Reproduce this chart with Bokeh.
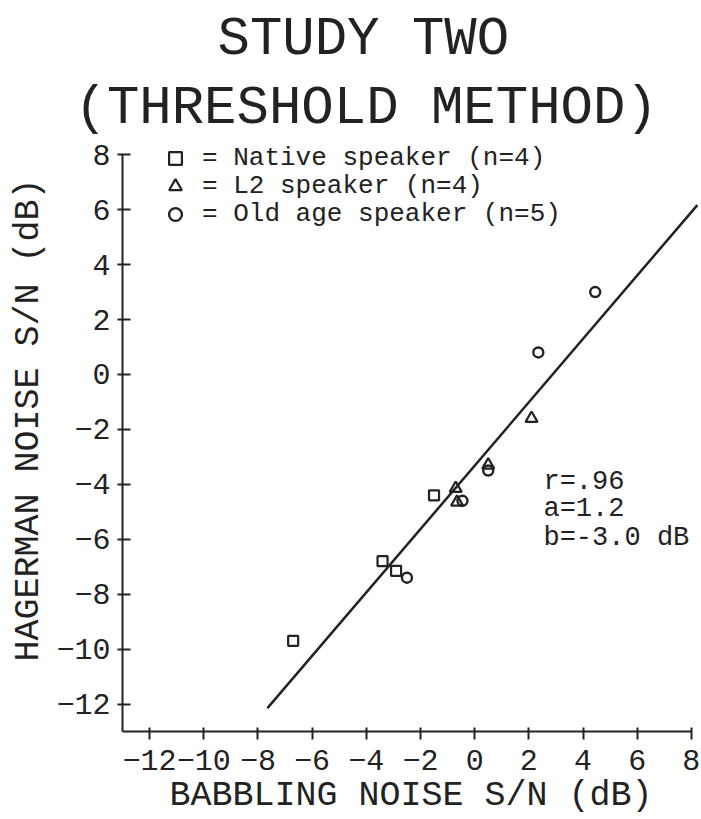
import numpy as np
from bokeh.plotting import figure
from bokeh.models import Range1d, FixedTicker, Label, Legend, LegendItem, Title
from bokeh.embed import file_html
from bokeh.resources import INLINE

# S/N thresholds (dB): babbling noise (x) vs Hagerman noise (y), per speaker group
native_x = [-6.7, -3.4, -2.9, -1.5]
native_y = [-9.7, -6.8, -7.15, -4.4]
l2_x = [2.1, 0.5, -0.7, -0.65]
l2_y = [-1.6, -3.3, -4.15, -4.65]
old_x = [4.45, 2.35, 0.5, -0.45, -2.5]
old_y = [3.0, 0.8, -3.5, -4.6, -7.4]

x_ticks = [-12, -10, -8, -6, -4, -2, 0, 2, 4, 6, 8]
y_ticks = [-12, -10, -8, -6, -4, -2, 0, 2, 4, 6, 8]

legend_labels = ["= Native speaker (n=4)", "= L2 speaker (n=4)", "= Old age speaker (n=5)"]
stats_lines = ["r=.96", "a=1.2", "b=-3.0 dB"]
title_lines = ["STUDY TWO", "(THRESHOLD METHOD)"]
x_title = "BABBLING NOISE S/N (dB)"
y_title = "HAGERMAN NOISE S/N (dB)"

# extent of the fitted regression line along x
fit_x_span = [-7.65, 8.22]

INK = "#222222"
FONT = "Liberation Mono"

p = figure(width=701, height=819,
           x_range=Range1d(-13, 8.3), y_range=Range1d(-13, 8.59),
           output_backend="svg", toolbar_location=None,
           min_border_left=122, min_border_right=2,
           min_border_top=137, min_border_bottom=88,
           background_fill_color="white", border_fill_color="white",
           outline_line_color=None)

p.xgrid.visible = False
p.ygrid.visible = False

for ax, ticks in ((p.xaxis, x_ticks), (p.yaxis, y_ticks)):
    ax.ticker = FixedTicker(ticks=ticks)
    ax.bounds = (-13, 8)
    ax.axis_line_width = 2
    ax.axis_line_color = INK
    ax.major_tick_line_width = 2
    ax.major_tick_line_color = INK
    ax.minor_tick_line_color = None
    ax.major_label_text_font = FONT
    ax.major_label_text_font_size = "30px"
    ax.major_label_text_color = INK

p.xaxis.major_tick_in = 4
p.xaxis.major_tick_out = 8
p.xaxis.major_label_standoff = 10
p.yaxis.major_tick_in = 8
p.yaxis.major_tick_out = 5
p.yaxis.major_label_standoff = 7

# x-axis title sits under the tick labels
p.xaxis.axis_label = x_title
p.xaxis.axis_label_text_font = FONT
p.xaxis.axis_label_text_font_size = "35px"
p.xaxis.axis_label_text_font_style = "normal"
p.xaxis.axis_label_text_color = INK
p.xaxis.axis_label_standoff = 3

# least-squares line through all speakers
all_x = np.array(native_x + l2_x + old_x)
all_y = np.array(native_y + l2_y + old_y)
slope, intercept = np.polyfit(all_x, all_y, 1)
fx = np.array(fit_x_span)
p.line(fx, slope * fx + intercept, line_color=INK, line_width=2.5)

r_nat = p.scatter(native_x, native_y, marker="square", size=10,
                  line_color=INK, fill_color=None, line_width=2.2)
r_l2 = p.scatter(l2_x, l2_y, marker="triangle", size=12,
                 line_color=INK, fill_color=None, line_width=2.2)
r_old = p.scatter(old_x, old_y, marker="circle", size=10,
                  line_color=INK, fill_color=None, line_width=2.4)

# key: one single-entry legend per group so each row sits on its own line
for label, rend, vy in zip(legend_labels, [r_nat, r_l2, r_old], [557, 529, 501]):
    p.add_layout(Legend(items=[LegendItem(label=label, renderers=[rend])],
                        location=(37, vy), orientation="vertical",
                        border_line_color=None, background_fill_alpha=0,
                        padding=0, margin=0, spacing=0,
                        glyph_width=32, glyph_height=32, label_height=26,
                        label_standoff=11,
                        label_text_font=FONT, label_text_font_size="26px",
                        label_text_color=INK))

# regression statistics
for txt, yy in zip(stats_lines, [-3.93, -4.91, -5.96]):
    p.add_layout(Label(x=2.54, y=yy, text=txt, text_font=FONT,
                       text_font_size="27px", text_color=INK,
                       text_align="left", text_baseline="middle"))

# two-line heading, nearest line first
p.title = None
p.add_layout(Title(text=title_lines[1], align="left", offset=-48,
                   text_font=FONT, text_font_size="54px",
                   text_font_style="normal", text_color=INK, standoff=0), "above")
p.add_layout(Title(text=title_lines[0], align="left", offset=95,
                   text_font=FONT, text_font_size="54px",
                   text_font_style="normal", text_color=INK, standoff=12), "above")

# y-axis title, rotated, to the left of the tick labels
p.add_layout(Title(text=y_title, align="left", offset=70,
                   text_font=FONT, text_font_size="35px",
                   text_font_style="normal", text_color=INK, standoff=10), "left")

open("out.html", "w").write(file_html(p, INLINE))
